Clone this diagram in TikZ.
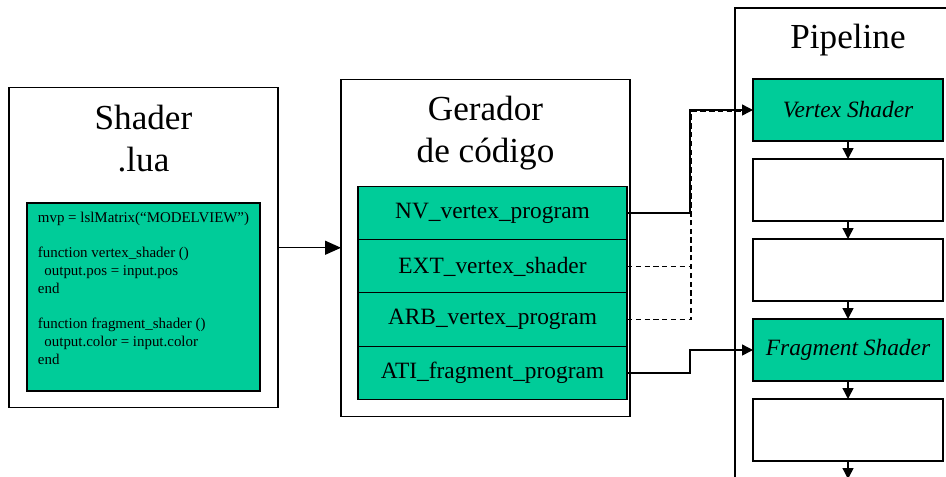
\documentclass[tikz,border=0pt]{standalone}
\usepackage{fontspec}
\setmainfont{Liberation Serif}
\usetikzlibrary{arrows.meta}
\definecolor{shadergreen}{HTML}{00CC99}

\begin{document}
\begin{tikzpicture}

      \tikzset{block/.style={draw, line width=0.8pt, inner sep=0pt, outer sep=0pt},
               filled/.style={block, fill=shadergreen},
               heading/.style={align=center, font=\fontsize{20}{24}\selectfont},
               row/.style={filled, minimum width=5.38cm, minimum height=1.07cm, font=\fontsize{13.3}{16}\selectfont},
               stage/.style={block, minimum width=3.8cm, minimum height=1.24cm, font=\fontsize{13.3}{16}\selectfont\itshape},
               link/.style={line width=0.8pt, -{Triangle[length=0.22cm, width=0.22cm]}},
               alt/.style={line width=0.9pt, dash pattern=on 3pt off 2pt}}

      \clip (0,0) rectangle (18.92,-9.52);
%% Shader.lua
      \node[block, minimum width=5.38cm, minimum height=6.4cm] (shader) at (2.87,-4.955) {};
      \node[heading] (shadertitle) at (2.87,-2.77) {Shader\\.lua};
      \node[filled, minimum width=4.66cm, minimum height=3.76cm, align=left,
            font=\fontsize{8.5}{10.06}\selectfont] (code) at (2.87,-5.94)
            {mvp = lslMatrix(“MODELVIEW”)\\
             \mbox{}\\
             function vertex\_shader ()\\
             \hspace*{0.13cm}output.pos = input.pos\\
             end\\
             \mbox{}\\
             function fragment\_shader ()\\
             \hspace*{0.13cm}output.color = input.color\\
             end\\
             \mbox{}};
%% Gerador de codigo
      \node[block, minimum width=5.78cm, minimum height=6.74cm] (gerador) at (9.71,-4.955) {};
      \node[heading] (geradortitle) at (9.71,-2.67) {Gerador\\de código};
      	\node[row] (nv) at (9.85,-4.26) {NV\_vertex\_program};
      	\node[row] (ext) at (9.85,-5.33) {EXT\_vertex\_shader};
      	\node[row] (arb) at (9.85,-6.39) {ARB\_vertex\_program};
      	\node[row] (ati) at (9.85,-7.46) {ATI\_fragment\_program};
%% Pipeline
      \node[block, minimum width=4.52cm, minimum height=10.24cm] (pipeline) at (16.96,-5.28) {};
      \node[heading] (pipelinetitle) at (16.96,-0.8) {Pipeline};
      	\node[stage, fill=shadergreen] (vs) at (16.96,-2.2) {Vertex Shader};
      	\node[stage] (p2) at (16.96,-3.8) {};
      	\node[stage] (p3) at (16.96,-5.4) {};
      	\node[stage, fill=shadergreen] (fs) at (16.96,-7.0) {Fragment Shader};
      	\node[stage] (p5) at (16.96,-8.6) {};
      	\coordinate (p6) at (16.96,-9.58);
%Edges
		\draw[link, -{Triangle[length=0.32cm, width=0.28cm]}] (shader.east) -- (gerador.west);
		\draw[link] (nv.east) -- ++(1.26,0) |- (vs.west);
		\draw[alt] (ext.east) -- ++(1.28,0) |- ([xshift=-0.24cm, yshift=-0.03cm]vs.west);
		\draw[alt] (arb.east) -- ++(1.28,0) |- ([xshift=-0.24cm, yshift=-0.03cm]vs.west);
		\draw[link] (ati.east) -- ++(1.26,0) |- (fs.west);
		\draw[link] (vs.south) -- (p2.north);
		\draw[link] (p2.south) -- (p3.north);
		\draw[link] (p3.south) -- (fs.north);
		\draw[link] (fs.south) -- (p5.north);
		\draw[link] (p5.south) -- (p6);

	\end{tikzpicture}
\end{document}
